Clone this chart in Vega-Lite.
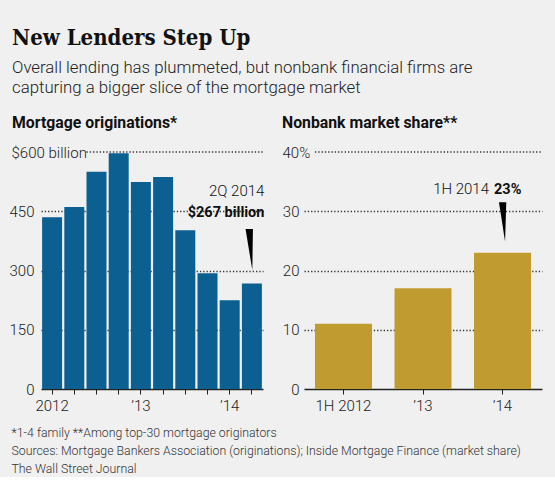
{
  "$schema": "https://vega.github.io/schema/vega-lite/v6.json",
  "background": "#f0f0f0",
  "padding": {"left": 9, "top": 27, "right": 12, "bottom": 2},
  "title": {
    "text": "New Lenders Step Up",
    "subtitle": [
      "Overall lending has plummeted, but nonbank financial firms are",
      "capturing a bigger slice of the mortgage market"
    ],
    "anchor": "start",
    "dx": 3,
    "font": "DejaVu Serif Condensed, DejaVu Serif",
    "fontSize": 22,
    "fontWeight": "bold",
    "color": "#111111",
    "subtitleFont": "Roboto",
    "subtitleFontWeight": 300,
    "subtitleFontSize": 16.8,
    "subtitleColor": "#222222",
    "subtitleLineHeight": 20,
    "subtitlePadding": 10,
    "offset": 17
  },
  "config": {"view": {"stroke": null}},
  "bounds": "flush",
  "spacing": 41,
  "hconcat": [
    {
      "width": 222,
      "height": 237,
      "title": {
        "text": "Mortgage originations*",
        "anchor": "start",
        "dx": 3,
        "font": "Roboto",
        "fontWeight": "bold",
        "fontSize": 15.8,
        "color": "#111111",
        "offset": 13
      },
      "data": {
        "values": [
          {"kind": "bar", "q": "2012 Q1", "v": 435},
          {"kind": "bar", "q": "2012 Q2", "v": 461},
          {"kind": "bar", "q": "2012 Q3", "v": 550},
          {"kind": "bar", "q": "2012 Q4", "v": 597},
          {"kind": "bar", "q": "2013 Q1", "v": 524},
          {"kind": "bar", "q": "2013 Q2", "v": 537},
          {"kind": "bar", "q": "2013 Q3", "v": 402},
          {"kind": "bar", "q": "2013 Q4", "v": 293},
          {"kind": "bar", "q": "2014 Q1", "v": 225},
          {"kind": "bar", "q": "2014 Q2", "v": 267},
          {"kind": "grid", "q": "2012 Q3", "v": 600},
          {"kind": "note", "q": "2014 Q2", "v": 489, "t": "2Q 2014"},
          {"kind": "noteb", "q": "2014 Q2", "v": 435, "t": "$267 billion"},
          {"kind": "ptr", "q": "2014 Q2", "v": 353}
        ]
      },
      "encoding": {
        "x": {
          "field": "q",
          "type": "ordinal",
          "scale": {"paddingInner": 0.1, "paddingOuter": 0.05},
          "axis": {
            "labelExpr": "datum.value == '2012 Q1' ? '2012' : datum.value == '2013 Q1' ? '’13' : datum.value == '2014 Q1' ? '’14' : ''",
            "labelAngle": 0,
            "labelFont": "Roboto",
            "labelFontWeight": 300,
            "labelFontSize": 15,
            "labelColor": "#222222",
            "labelPadding": 4,
            "tickSize": 5,
            "tickColor": "#222222",
            "domainColor": "#222222",
            "domainWidth": 1.5,
            "title": [
              "*1-4 family **Among top-30 mortgage originators",
              "Sources: Mortgage Bankers Association (originations); Inside Mortgage Finance (market share)",
              "The Wall Street Journal"
            ],
            "titleFont": "Roboto",
            "titleFontWeight": 300,
            "titleFontSize": 12.3,
            "titleColor": "#333333",
            "titleAlign": "left",
            "titleAnchor": "start",
            "titleBaseline": "alphabetic",
            "titleLineHeight": 18,
            "titleX": -30,
            "titleY": 47
          }
        },
        "y": {
          "field": "v",
          "type": "quantitative",
          "scale": {"domain": [0, 600], "nice": false},
          "axis": {
            "values": [0, 150, 300, 450, 600],
            "labelExpr": "datum.value == 600 ? '$600 billion' : datum.label",
            "labelAlign": {"condition": {"test": "datum.value == 600", "value": "left"}, "value": "right"},
            "labelPadding": {"condition": {"test": "datum.value == 600", "value": 30}, "value": 7},
            "labelFont": "Roboto",
            "labelFontWeight": 300,
            "labelFontSize": 15,
            "labelColor": "#222222",
            "labelBaseline": "middle",
            "ticks": false,
            "tickSize": 0,
            "domain": false,
            "grid": true,
            "gridColor": "#333333",
            "gridWidth": 1.3,
            "gridDash": [1.3, 2],
            "gridOpacity": {"condition": {"test": "datum.value == 600 || datum.value == 0", "value": 0}, "value": 1},
            "title": null
          }
        }
      },
      "layer": [
        {
          "transform": [{"filter": "datum.kind == 'grid'"}],
          "mark": {"type": "rule", "color": "#333333", "strokeWidth": 1.3, "strokeDash": [1.3, 2]},
          "encoding": {
            "x": {
              "field": "q",
              "type": "ordinal",
              "bandPosition": 0,
              "axis": {
                "labelExpr": "datum.value == '2012 Q1' ? '2012' : datum.value == '2013 Q1' ? '’13' : datum.value == '2014 Q1' ? '’14' : ''",
                "labelAngle": 0,
                "labelFont": "Roboto",
                "labelFontWeight": 300,
                "labelFontSize": 15,
                "labelColor": "#222222",
                "labelPadding": 4,
                "tickSize": 5,
                "tickColor": "#222222",
                "domainColor": "#222222",
                "domainWidth": 1.5,
                "title": [
                  "*1-4 family **Among top-30 mortgage originators",
                  "Sources: Mortgage Bankers Association (originations); Inside Mortgage Finance (market share)",
                  "The Wall Street Journal"
                ],
                "titleFont": "Roboto",
                "titleFontWeight": 300,
                "titleFontSize": 12.3,
                "titleColor": "#333333",
                "titleAlign": "left",
                "titleAnchor": "start",
                "titleBaseline": "alphabetic",
                "titleLineHeight": 18,
                "titleX": -30,
                "titleY": 47
              }
            },
            "x2": {"value": "width"}
          }
        },
        {
          "transform": [{"filter": "datum.kind == 'bar'"}],
          "mark": {"type": "bar", "color": "#0b5f91"}
        },
        {
          "transform": [{"filter": "datum.kind == 'note'"}],
          "mark": {"type": "text", "align": "right", "baseline": "alphabetic", "dx": 12.5, "font": "Roboto", "fontWeight": 300, "fontSize": 15, "color": "#111111"},
          "encoding": {"text": {"field": "t"}}
        },
        {
          "transform": [{"filter": "datum.kind == 'noteb'"}],
          "mark": {"type": "text", "align": "right", "baseline": "alphabetic", "dx": 12.5, "font": "Roboto", "fontWeight": "bold", "fontSize": 14.5, "color": "#111111"},
          "encoding": {"text": {"field": "t"}}
        },
        {
          "transform": [{"filter": "datum.kind == 'ptr'"}],
          "mark": {"type": "point", "shape": "M -0.31 -1 L 0.05 -1 L 0.02 1 Z", "size": 1681, "filled": true, "color": "#000000", "opacity": 1}
        }
      ]
    },
    {
      "width": 238,
      "height": 237,
      "title": {
        "text": "Nonbank market share**",
        "anchor": "start",
        "font": "Roboto",
        "fontWeight": "bold",
        "fontSize": 15.8,
        "color": "#111111",
        "offset": 13
      },
      "data": {
        "values": [
          {"kind": "bar", "h": "1H 2012", "v": 11},
          {"kind": "bar", "h": "’13", "v": 17},
          {"kind": "bar", "h": "’14", "v": 23},
          {"kind": "grid", "h": "1H 2012", "v": 40},
          {"kind": "note", "h": "’14", "v": 32.9, "t": "1H 2014"},
          {"kind": "noteb", "h": "’14", "v": 32.9, "t": "23%"},
          {"kind": "ptr", "h": "’14", "v": 28.2}
        ]
      },
      "encoding": {
        "x": {
          "field": "h",
          "type": "ordinal",
          "scale": {"paddingInner": 0.283, "paddingOuter": 0.138},
          "axis": {
            "labelAngle": 0,
            "labelFont": "Roboto",
            "labelFontWeight": 300,
            "labelFontSize": 15,
            "labelColor": "#222222",
            "labelPadding": 4,
            "tickSize": 5,
            "tickColor": "#222222",
            "domainColor": "#222222",
            "domainWidth": 1.5,
            "title": null
          }
        },
        "y": {
          "field": "v",
          "type": "quantitative",
          "scale": {"domain": [0, 40], "nice": false},
          "axis": {
            "values": [0, 10, 20, 30, 40],
            "labelExpr": "datum.value == 40 ? '40%' : datum.label",
            "labelAlign": {"condition": {"test": "datum.value == 40", "value": "left"}, "value": "right"},
            "labelPadding": {"condition": {"test": "datum.value == 40", "value": 22}, "value": 5},
            "labelFont": "Roboto",
            "labelFontWeight": 300,
            "labelFontSize": 15,
            "labelColor": "#222222",
            "labelBaseline": "middle",
            "ticks": false,
            "tickSize": 0,
            "domain": false,
            "grid": true,
            "gridColor": "#333333",
            "gridWidth": 1.3,
            "gridDash": [1.3, 2],
            "gridOpacity": {"condition": {"test": "datum.value == 40 || datum.value == 0", "value": 0}, "value": 1},
            "title": null
          }
        }
      },
      "layer": [
        {
          "transform": [{"filter": "datum.kind == 'grid'"}],
          "mark": {"type": "rule", "color": "#333333", "strokeWidth": 1.3, "strokeDash": [1.3, 2]},
          "encoding": {
            "x": {
              "field": "h",
              "type": "ordinal",
              "bandPosition": 0,
              "axis": {
                "labelAngle": 0,
                "labelFont": "Roboto",
                "labelFontWeight": 300,
                "labelFontSize": 15,
                "labelColor": "#222222",
                "labelPadding": 4,
                "tickSize": 5,
                "tickColor": "#222222",
                "domainColor": "#222222",
                "domainWidth": 1.5,
                "title": null
              }
            },
            "x2": {"value": "width"}
          }
        },
        {
          "transform": [{"filter": "datum.kind == 'bar'"}],
          "mark": {"type": "bar", "color": "#c09c30"}
        },
        {
          "transform": [{"filter": "datum.kind == 'note'"}],
          "mark": {"type": "text", "align": "right", "baseline": "alphabetic", "dx": -13.5, "font": "Roboto", "fontWeight": 300, "fontSize": 15, "color": "#111111"},
          "encoding": {"text": {"field": "t"}}
        },
        {
          "transform": [{"filter": "datum.kind == 'noteb'"}],
          "mark": {"type": "text", "align": "left", "baseline": "alphabetic", "dx": -8.5, "font": "Roboto", "fontWeight": "bold", "fontSize": 14.5, "color": "#111111"},
          "encoding": {"text": {"field": "t"}}
        },
        {
          "transform": [{"filter": "datum.kind == 'ptr'"}],
          "mark": {"type": "point", "shape": "M -0.18 -1 L 0.19 -1 L 0.13 1 Z", "size": 1552, "filled": true, "color": "#000000", "opacity": 1}
        }
      ]
    }
  ]
}
